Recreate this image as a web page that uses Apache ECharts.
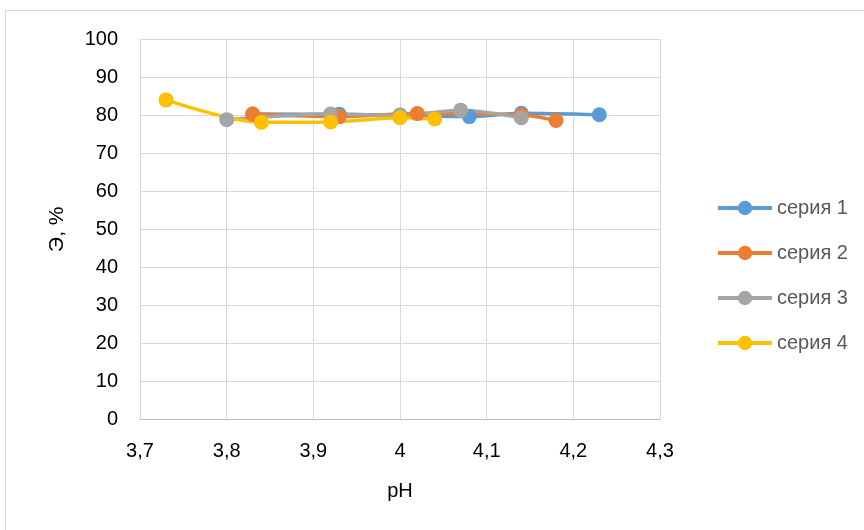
<!DOCTYPE html>
<html>
<head>
<meta charset="utf-8">
<script src="https://cdn.jsdelivr.net/npm/echarts@6/dist/echarts.min.js"></script>
<style>
  html, body { margin: 0; padding: 0; background: #ffffff; }
  #chart { width: 864px; height: 530px; }
  #frame { position: absolute; left: 5px; top: 10px; width: 880px; height: 540px; border: 1px solid #d9d9d9; box-sizing: border-box; pointer-events: none; }
</style>
</head>
<body>
<div id="chart"></div>
<div id="frame"></div>
<script>
// pH values and efficiency (Э, %) for each series
const series1X = [3.83, 3.93, 4.00, 4.08, 4.14, 4.23];
const series1Y = [80.3, 80.2, 80.0, 79.6, 80.5, 80.1];

const series2X = [3.83, 3.93, 4.02, 4.14, 4.18];
const series2Y = [80.3, 79.6, 80.4, 80.0, 78.6];

const series3X = [3.80, 3.92, 4.00, 4.07, 4.14];
const series3Y = [78.8, 80.3, 79.9, 81.3, 79.3];

const series4X = [3.73, 3.84, 3.92, 4.00, 4.04];
const series4Y = [84.0, 78.1, 78.2, 79.3, 79.0];

const seriesNames = ['серия 1', 'серия 2', 'серия 3', 'серия 4'];
const seriesColors = ['#5b9bd5', '#ed7d31', '#a5a5a5', '#ffc000'];

const xTicks = { min: 3.7, max: 4.3, interval: 0.1 };
const yTicks = { min: 0, max: 100, interval: 10 };

const font = 'Liberation Sans, Arial, sans-serif';

function pairs(xs, ys) {
  return xs.map((x, i) => [x, ys[i]]);
}

const allX = [series1X, series2X, series3X, series4X];
const allY = [series1Y, series2Y, series3Y, series4Y];

const chart = echarts.init(document.getElementById('chart'), null, { renderer: 'canvas' });

chart.setOption({
  animation: false,
  backgroundColor: '#ffffff',
  grid: { left: 140, right: 204, top: 39, bottom: 110.5 },
  legend: {
    orient: 'vertical',
    left: 716,
    top: 198,
    padding: 0,
    itemWidth: 54,
    itemHeight: 18,
    itemGap: 25,
    lineStyle: { width: 4 },
    textStyle: { color: '#595959', fontSize: 20, fontFamily: font },
    data: seriesNames
  },
  xAxis: {
    type: 'value',
    min: xTicks.min,
    max: xTicks.max,
    interval: xTicks.interval,
    name: 'pH',
    nameLocation: 'middle',
    nameGap: 62,
    nameTextStyle: { color: '#000000', fontSize: 20, fontFamily: font },
    axisLine: { show: true, lineStyle: { color: '#bfbfbf', width: 1 } },
    axisTick: { show: false },
    axisLabel: {
      color: '#000000', fontSize: 20, fontFamily: font, margin: 22,
      formatter: v => String(Math.round(v * 10) / 10).replace('.', ',')
    },
    splitLine: { show: true, lineStyle: { color: '#d9d9d9', width: 1 } }
  },
  yAxis: {
    type: 'value',
    min: yTicks.min,
    max: yTicks.max,
    interval: yTicks.interval,
    name: 'Э, %',
    nameLocation: 'middle',
    nameGap: 72,
    nameRotate: 90,
    nameTextStyle: { color: '#000000', fontSize: 21, fontFamily: font },
    axisLine: { show: true, lineStyle: { color: '#d9d9d9', width: 1 } },
    axisTick: { show: false },
    axisLabel: { color: '#000000', fontSize: 20, fontFamily: font, margin: 22 },
    splitLine: { show: true, lineStyle: { color: '#d9d9d9', width: 1 } }
  },
  series: seriesNames.map((name, i) => ({
    name: name,
    type: 'line',
    smooth: 0.3,
    data: pairs(allX[i], allY[i]),
    symbol: 'circle',
    symbolSize: 15,
    lineStyle: { color: seriesColors[i], width: 3.5 },
    itemStyle: { color: seriesColors[i] },
    emphasis: { disabled: true }
  }))
});
</script>
</body>
</html>
